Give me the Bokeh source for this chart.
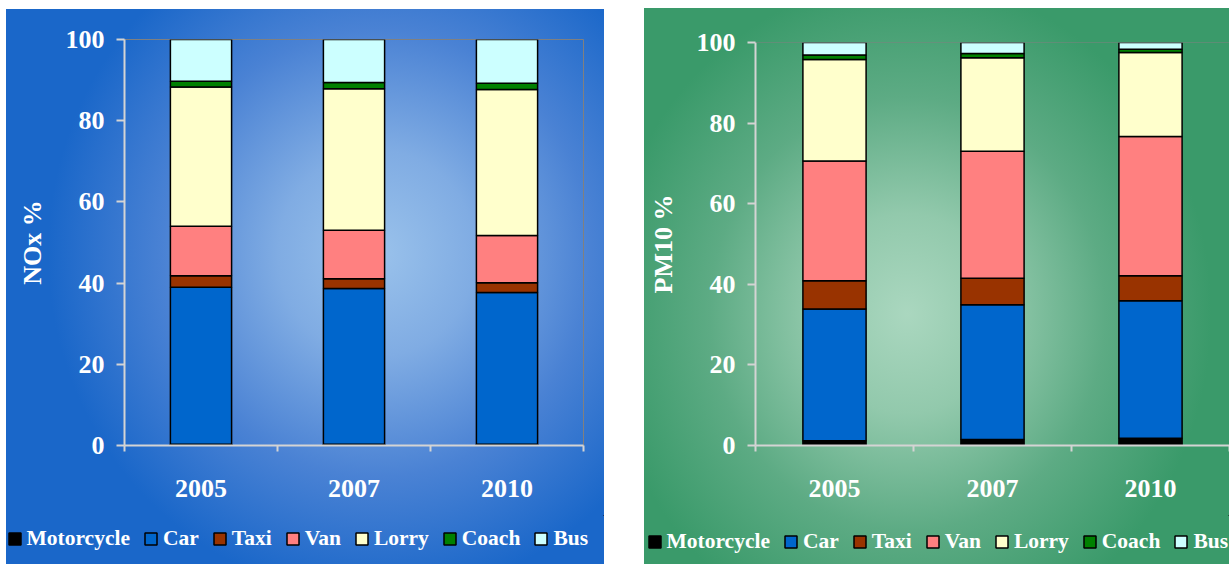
from bokeh.plotting import figure
from bokeh.models import (ColumnDataSource, FactorRange, Range1d, LinearAxis,
                          CategoricalAxis, FixedTicker, Legend, LegendItem, Span,
                          CustomJSTickFormatter)
from bokeh.layouts import row, column
from bokeh.embed import file_html
from bokeh.resources import INLINE

years = ["2005", "2007", "2010"]
vehicles = ["Motorcycle", "Car", "Taxi", "Van", "Lorry", "Coach", "Bus"]
colors = ["#000000", "#0066CC", "#993300", "#FF8080", "#FFFFCC", "#008000", "#CCFFFF"]
y_ticks = [0, 20, 40, 60, 80, 100]

# NOx share (%) by vehicle type
nox_motorcycle = [0.3, 0.3, 0.3]
nox_car = [38.7, 38.4, 37.4]
nox_taxi = [2.8, 2.4, 2.4]
nox_van = [12.2, 11.9, 11.6]
nox_lorry = [34.3, 34.9, 36.0]
nox_coach = [1.4, 1.5, 1.5]
nox_bus = [10.3, 10.6, 10.8]

# PM10 share (%) by vehicle type
pm10_motorcycle = [1.2, 1.5, 1.8]
pm10_car = [32.7, 33.4, 34.1]
pm10_taxi = [7.0, 6.6, 6.2]
pm10_van = [29.7, 31.5, 34.6]
pm10_lorry = [25.2, 23.2, 20.8]
pm10_coach = [1.1, 1.1, 0.8]
pm10_bus = [3.1, 2.7, 1.7]

FONT = "Liberation Serif"
AXIS_GREY = "#D4D4D4"


def make_chart(series, ylabel, frame_w, frame_h, left, top, right, bottom, outline):
    p = figure(x_range=FactorRange(*years), y_range=Range1d(0, 100),
               frame_width=frame_w, frame_height=frame_h,
               min_border_left=left, min_border_top=top,
               min_border_right=right, min_border_bottom=bottom,
               output_backend="svg", toolbar_location=None,
               x_axis_location=None, y_axis_location=None)
    p.background_fill_color = None
    p.border_fill_color = None
    p.grid.visible = False
    p.outline_line_color = "#808080" if outline else None
    if not outline:
        p.add_layout(Span(location=100, dimension="width",
                          line_color="#808080", line_width=1))

    data = {"year": years}
    data.update(dict(zip(vehicles, series)))
    source = ColumnDataSource(data)
    p.vbar_stack(vehicles, x="year", width=0.4, source=source,
                 fill_color=colors, line_color="black", line_width=1.5)

    # y axis
    yax = LinearAxis(ticker=FixedTicker(ticks=y_ticks), axis_label=ylabel)
    yax.axis_line_color = AXIS_GREY
    yax.axis_line_width = 2
    yax.major_tick_line_color = AXIS_GREY
    yax.major_tick_line_width = 2
    yax.major_tick_in = 0
    yax.major_tick_out = 8
    yax.minor_tick_line_color = None
    yax.major_label_text_font = FONT
    yax.major_label_text_font_style = "bold"
    yax.major_label_text_font_size = "26px"
    yax.major_label_text_color = "white"
    yax.major_label_standoff = 12
    yax.axis_label_text_font = FONT
    yax.axis_label_text_font_style = "bold"
    yax.axis_label_text_font_size = "26px"
    yax.axis_label_text_color = "white"
    yax.axis_label_standoff = 16
    p.add_layout(yax, "left")

    # x axis line, ticked at the boundaries between the year categories
    edge_ax = LinearAxis(ticker=FixedTicker(ticks=[0, 1, 2, 3]),
                         formatter=CustomJSTickFormatter(code="return ''"))
    edge_ax.axis_line_color = AXIS_GREY
    edge_ax.axis_line_width = 2
    edge_ax.major_tick_line_color = AXIS_GREY
    edge_ax.major_tick_line_width = 2
    edge_ax.major_tick_in = 0
    edge_ax.major_tick_out = 6
    edge_ax.minor_tick_line_color = None
    edge_ax.major_label_standoff = 0
    p.add_layout(edge_ax, "below")

    # year labels
    xax = CategoricalAxis()
    xax.axis_line_color = None
    xax.major_tick_line_color = None
    xax.major_label_text_font = FONT
    xax.major_label_text_font_style = "bold"
    xax.major_label_text_font_size = "26px"
    xax.major_label_text_color = "white"
    xax.major_label_standoff = 22
    p.add_layout(xax, "below")
    return p


def make_legend(width, height, x, y, spacing):
    # a strip holding only the vehicle-type key; its swatch glyphs sit
    # outside the visible range so only the key itself shows
    p = figure(width=width, height=height, x_range=Range1d(0, 1), y_range=Range1d(0, 1),
               output_backend="svg", toolbar_location=None,
               x_axis_location=None, y_axis_location=None, min_border=0)
    p.background_fill_color = None
    p.border_fill_color = None
    p.outline_line_color = None
    p.grid.visible = False
    items = []
    for name, c in zip(vehicles, colors):
        r = p.vbar(x=[10], top=[10], bottom=[9], width=0.1, fill_color=c,
                   line_color="black", line_width=1.5)
        items.append(LegendItem(label=name, renderers=[r]))
    legend = Legend(items=items, orientation="horizontal", location=(x, y),
                    glyph_width=15, glyph_height=15, label_standoff=5,
                    spacing=spacing, padding=0, margin=0,
                    border_line_color=None, background_fill_alpha=0,
                    label_text_font=FONT, label_text_font_style="bold",
                    label_text_font_size="21.5px", label_text_color="white")
    p.add_layout(legend)
    return p


nox_chart = make_chart(
    [nox_motorcycle, nox_car, nox_taxi, nox_van, nox_lorry, nox_coach, nox_bus],
    "NOx %", 459, 406, 118, 30, 21, 70, True)
nox_key = make_legend(598, 49, 0.5, 13, 13)
nox_panel = column(nox_chart, row(nox_key), margin=(9, 0, 0, 6), styles={
    "background": "radial-gradient(ellipse 55% 62% at 62% 44%, #9AC2EB 0%, "
                  "#80ACE3 30%, #4A82D4 65%, #1A67C9 100%)"})

pm_chart = make_chart(
    [pm10_motorcycle, pm10_car, pm10_taxi, pm10_van, pm10_lorry, pm10_coach, pm10_bus],
    "PM10 %", 474, 403, 111, 34, 0, 70, False)
pm_key = make_legend(585, 49, 2.5, 10, 13)
pm_panel = column(pm_chart, row(pm_key), margin=(8, 0, 0, 40), styles={
    "background": "radial-gradient(ellipse 52% 60% at 45% 55%, #AAD7BF 0%, "
                  "#92C9AC 30%, #5DAB84 65%, #3A9A6A 100%)"})

layout = row(nox_panel, pm_panel)

open("out.html", "w").write(file_html(layout, INLINE))
